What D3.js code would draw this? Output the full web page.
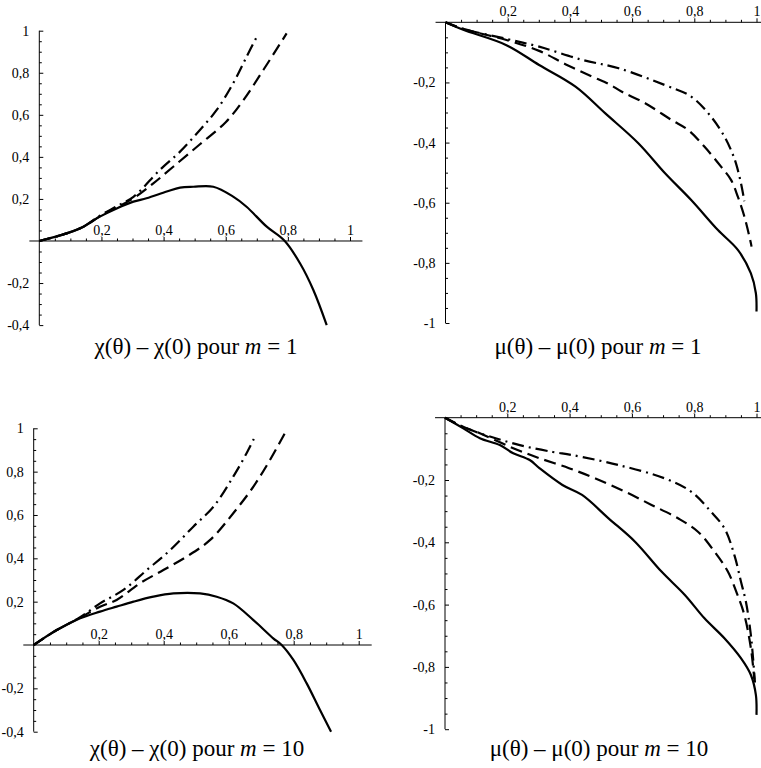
<!DOCTYPE html>
<html>
<head>
<meta charset="utf-8">
<title>chi et mu pour m = 1 et m = 10</title>
<script src="https://d3js.org/d3.v7.min.js"></script>
<style>
  body { margin: 0; background: #fff; }
  svg { display: block; }
  .curve { fill: none; stroke: #000; stroke-width: 2.2; stroke-linejoin: round; }
  .axis line { stroke: #000; stroke-width: 1; }
</style>
</head>
<body>
<svg id="chart" width="761" height="768"></svg>
<script>
const serif = '"Liberation Serif"';

// chi(theta) - chi(0), m = 1
const chiM1SolidX   = [0, 0.088, 0.142, 0.195, 0.249, 0.303, 0.345, 0.41, 0.453, 0.496, 0.56, 0.624, 0.667, 0.732, 0.79, 0.839, 0.882, 0.925];
const chiM1SolidY   = [0, 0.036, 0.068, 0.116, 0.155, 0.187, 0.203, 0.235, 0.254, 0.258, 0.258, 0.211, 0.163, 0.068, 0, -0.106, -0.233, -0.4];
const chiM1DashX    = [0, 0.088, 0.142, 0.195, 0.249, 0.303, 0.367, 0.431, 0.517, 0.6, 0.657, 0.721, 0.796];
const chiM1DashY    = [0, 0.036, 0.068, 0.118, 0.16, 0.203, 0.274, 0.353, 0.46, 0.565, 0.67, 0.813, 0.987];
const chiM1DotDashX = [0, 0.088, 0.142, 0.195, 0.249, 0.303, 0.388, 0.453, 0.517, 0.571, 0.624, 0.667, 0.70];
const chiM1DotDashY = [0, 0.036, 0.068, 0.12, 0.165, 0.21, 0.338, 0.425, 0.528, 0.623, 0.75, 0.876, 0.971];

// mu(theta) - mu(0), m = 1
const muM1SolidX   = [0, 0.057, 0.196, 0.301, 0.418, 0.514, 0.62, 0.706, 0.79, 0.876, 0.94, 0.982, 0.998, 1.0];
const muM1SolidY   = [0, -0.025, -0.076, -0.142, -0.214, -0.303, -0.402, -0.502, -0.591, -0.691, -0.757, -0.835, -0.901, -0.962];
const muM1DashX    = [0, 0.057, 0.196, 0.301, 0.387, 0.47, 0.525, 0.567, 0.642, 0.727, 0.78, 0.833, 0.886, 0.918, 0.94, 0.961, 0.982, 0.984];
const muM1DashY    = [0, -0.022, -0.059, -0.095, -0.14, -0.18, -0.205, -0.231, -0.269, -0.325, -0.358, -0.414, -0.48, -0.524, -0.58, -0.646, -0.735, -0.746];
const muM1DotDashX = [0, 0.057, 0.196, 0.301, 0.44, 0.557, 0.706, 0.79, 0.854, 0.897, 0.918, 0.934, 0.95, 0.961];
const muM1DotDashY = [0, -0.022, -0.055, -0.081, -0.125, -0.153, -0.209, -0.247, -0.314, -0.38, -0.425, -0.469, -0.535, -0.595];

// chi(theta) - chi(0), m = 10
const chiM10SolidX   = [0, 0.071, 0.143, 0.204, 0.255, 0.307, 0.368, 0.43, 0.512, 0.563, 0.614, 0.676, 0.737, 0.763, 0.799, 0.84, 0.881, 0.915];
const chiM10SolidY   = [0, 0.069, 0.123, 0.154, 0.177, 0.2, 0.223, 0.238, 0.238, 0.223, 0.192, 0.115, 0.031, 0, -0.069, -0.177, -0.3, -0.4];
const chiM10DashX    = [0, 0.071, 0.143, 0.204, 0.255, 0.327, 0.399, 0.471, 0.543, 0.614, 0.676, 0.727, 0.778];
const chiM10DashY    = [0, 0.069, 0.126, 0.177, 0.208, 0.285, 0.346, 0.408, 0.485, 0.608, 0.731, 0.854, 0.992];
const chiM10DotDashX = [0, 0.071, 0.143, 0.204, 0.276, 0.348, 0.42, 0.491, 0.553, 0.614, 0.655, 0.681];
const chiM10DotDashY = [0, 0.069, 0.128, 0.192, 0.254, 0.346, 0.438, 0.546, 0.638, 0.777, 0.885, 0.962];

// mu(theta) - mu(0), m = 10
const muM10SolidX   = [0, 0.06, 0.112, 0.176, 0.219, 0.272, 0.303, 0.377, 0.44, 0.525, 0.61, 0.695, 0.77, 0.833, 0.897, 0.95, 0.982, 0.998, 1.0];
const muM10SolidY   = [0, -0.035, -0.066, -0.088, -0.114, -0.136, -0.162, -0.216, -0.248, -0.323, -0.398, -0.494, -0.569, -0.644, -0.708, -0.772, -0.826, -0.89, -0.954];
const muM10DashX    = [0, 0.06, 0.112, 0.219, 0.303, 0.398, 0.483, 0.579, 0.663, 0.748, 0.812, 0.865, 0.908, 0.939, 0.961, 0.982, 0.993];
const muM10DashY    = [0, -0.03, -0.05, -0.098, -0.13, -0.162, -0.195, -0.238, -0.28, -0.323, -0.366, -0.43, -0.494, -0.569, -0.633, -0.74, -0.84];
const muM10DotDashX = [0, 0.06, 0.112, 0.24, 0.346, 0.409, 0.557, 0.706, 0.791, 0.854, 0.897, 0.929, 0.95, 0.966, 0.982, 0.995];
const muM10DotDashY = [0, -0.03, -0.05, -0.088, -0.11, -0.12, -0.152, -0.195, -0.238, -0.302, -0.355, -0.441, -0.526, -0.591, -0.698, -0.85];

const captions = [
    ["χ(θ) – χ(0) pour ", "m", " = 1"],
    ["μ(θ) – μ(0) pour ", "m", " = 1"],
    ["χ(θ) – χ(0) pour ", "m", " = 10"],
    ["μ(θ) – μ(0) pour ", "m", " = 10"]
];

const dashStyles = { solid: null, dash: "12,6", dotdash: "12,5,2,5" };

const zip = (xs, ys) => xs.map((x, i) => [x, ys[i]]);

// pixel layout of each panel (where the axes sit)
const panels = [
    { xr: [39.3, 350], yDom: [1, -0.4], yr: [30.7, 325.1], cap: [196, 354],
      series: [[chiM1SolidX, chiM1SolidY, "solid"], [chiM1DashX, chiM1DashY, "dash"], [chiM1DotDashX, chiM1DotDashY, "dotdash"]] },
    { xr: [445.5, 756.5], yDom: [0, -1], yr: [22.3, 323], cap: [598, 354],
      series: [[muM1SolidX, muM1SolidY, "solid"], [muM1DashX, muM1DashY, "dash"], [muM1DotDashX, muM1DotDashY, "dotdash"]] },
    { xr: [33.7, 358.7], yDom: [1, -0.4], yr: [428.3, 731.7], cap: [197, 756],
      series: [[chiM10SolidX, chiM10SolidY, "solid"], [chiM10DashX, chiM10DashY, "dash"], [chiM10DotDashX, chiM10DotDashY, "dotdash"]] },
    { xr: [445, 756.5], yDom: [0, -1], yr: [417.7, 729.2], cap: [599, 756],
      series: [[muM10SolidX, muM10SolidY, "solid"], [muM10DashX, muM10DashY, "dash"], [muM10DotDashX, muM10DotDashY, "dotdash"]] }
];

const svg = d3.select("#chart");

// Mathematica-style labels: comma decimal, plain hyphen
const fmt = v => Math.abs(v - Math.round(v)) < 1e-9 ? String(Math.round(v)) : v.toFixed(1).replace(".", ",");

panels.forEach((p, idx) => {
    const g = svg.append("g");
    const x = d3.scaleLinear().domain([0, 1]).range(p.xr);
    const y = d3.scaleLinear().domain(p.yDom).range(p.yr);
    const lo = Math.min(...p.yDom), hi = Math.max(...p.yDom);

    const majX = [0.2, 0.4, 0.6, 0.8, 1];
    const minX = d3.range(1, 21).filter(i => i % 4 !== 0).map(i => i * 0.05);
    const majY = d3.range(-5, 6).map(i => i * 0.2).filter(v => Math.abs(v) > 1e-9 && v >= lo - 1e-9 && v <= hi + 1e-9);
    const minY = d3.range(-20, 21).filter(i => i % 4 !== 0).map(i => i * 0.05).filter(v => v >= lo && v <= hi);

    // x axis (horizontal line through y = 0)
    const y0 = y(0);
    g.append("line").attr("x1", x(-0.032)).attr("x2", x(1.04)).attr("y1", y0).attr("y2", y0)
        .attr("stroke", "#000").attr("stroke-width", 1);
    g.append("g").attr("class", "axis").attr("transform", `translate(0,${y0})`)
        .call(d3.axisTop(x).tickValues(majX).tickSize(4).tickPadding(2).tickFormat(fmt))
        .call(a => a.select(".domain").remove());
    g.append("g").attr("class", "axis").attr("transform", `translate(0,${y0})`)
        .call(d3.axisTop(x).tickValues(minX).tickSize(2.5).tickFormat(""))
        .call(a => a.select(".domain").remove());

    // y axis (vertical line through x = 0)
    const x0 = x(0);
    g.append("line").attr("x1", x0).attr("x2", x0).attr("y1", y(hi)).attr("y2", y(lo))
        .attr("stroke", "#000").attr("stroke-width", 1);
    g.append("g").attr("class", "axis").attr("transform", `translate(${x0},0)`)
        .call(d3.axisLeft(y).tickValues(majY).tickSize(-4).tickPadding(10).tickFormat(fmt))
        .call(a => a.select(".domain").remove());
    g.append("g").attr("class", "axis").attr("transform", `translate(${x0},0)`)
        .call(d3.axisLeft(y).tickValues(minY).tickSize(-2.5).tickFormat(""))
        .call(a => a.select(".domain").remove());

    g.selectAll(".axis text")
        .style("font-family", serif)
        .style("font-size", "14px")
        .style("fill", "#000");

    const line = d3.line()
        .x(d => x(d[0]))
        .y(d => y(d[1]))
        .curve(d3.curveCatmullRom.alpha(0.5));

    p.series.forEach(([xs, ys, style]) => {
        g.append("path")
            .datum(zip(xs, ys))
            .attr("class", "curve")
            .attr("stroke-dasharray", dashStyles[style])
            .attr("d", line);
    });

    const cap = captions[idx];
    const t = g.append("text")
        .style("font-family", serif)
        .style("font-size", "23px")
        .style("fill", "#000")
        .attr("x", p.cap[0]).attr("y", p.cap[1])
        .attr("text-anchor", "middle");
    t.append("tspan").text(cap[0]);
    t.append("tspan").style("font-style", "italic").text(cap[1]);
    t.append("tspan").text(cap[2]);
});
</script>
</body>
</html>
